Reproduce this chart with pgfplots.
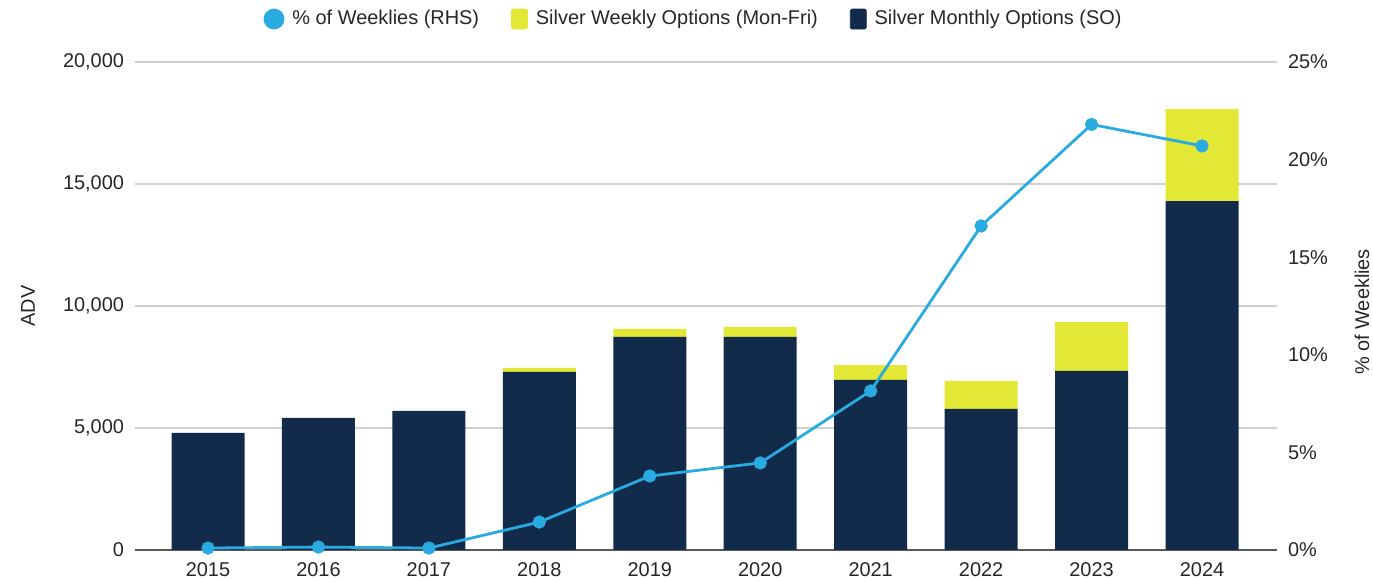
\documentclass[border=0pt]{standalone}
\usepackage{pgfplots}
\pgfplotsset{compat=1.18}
\usepackage{fontspec}
\setmainfont{Liberation Sans}
\definecolor{navy}{HTML}{132B4A}
\definecolor{ylw}{HTML}{E3E836}
\definecolor{lblue}{HTML}{29ABE2}
\definecolor{gridc}{HTML}{D0D0D0}
\definecolor{txt}{HTML}{262626}
\newcommand{\fs}{\fontsize{10}{12}\selectfont}
\begin{document}
\begin{tikzpicture}
\pgfplotsset{
  base/.style={
    scale only axis, width=571bp, height=244bp,
    xmin=-0.661, xmax=9.679,
    at={(0,0)}, anchor=south west,
    /pgf/number format/assume math mode=true,
    tick style={draw=none},
    ticklabel style={font=\fs, text=txt},
    label style={font=\fs, text=txt},
  }
}
\useasboundingbox (-67.5bp,-16bp) rectangle (619bp,275bp);
\begin{axis}[base,
  ybar stacked, bar width=36.5bp,
  ymin=0, ymax=20000, ytick={0,5000,10000,15000,20000},
  /pgf/number format/1000 sep={,},
  scaled y ticks=false,
  ymajorgrids, grid style={gridc, line width=0.6bp},
  axis x line*=bottom, axis y line*=left,
  y axis line style={draw=none},
  x axis line style={draw=black!65, line width=0.9bp},
  xtick={0,...,9},
  xticklabels={2015,2016,2017,2018,2019,2020,2021,2022,2023,2024},
  xticklabel style={yshift=-3bp},
  yticklabel style={xshift=-2bp},
  ylabel={ADV},
  ylabel style={at={(rel axis cs:0,0.5)}, anchor=center, yshift=53.5bp},
]
\addplot[fill=navy, draw=none] coordinates {(0,4800) (1,5410) (2,5700) (3,7300) (4,8730) (5,8730) (6,6970) (7,5780) (8,7340) (9,14300)};
\addplot[fill=ylw, draw=none] coordinates {(0,0) (1,0) (2,0) (3,160) (4,330) (5,410) (6,610) (7,1150) (8,2000) (9,3770)};
\end{axis}
\begin{axis}[base,
  ymin=0, ymax=25, ytick={0,5,10,15,20,25},
  yticklabel={\pgfmathprintnumber{\tick}\%},
  axis x line=none, axis y line*=right,
  y axis line style={draw=none},
  yticklabel style={xshift=2bp},
  ylabel={\% of Weeklies},
  ylabel style={at={(rel axis cs:1,0.5)}, anchor=center, yshift=-42.5bp, xshift=-3bp},
  legend style={at={(rel axis cs:0.49,1.088)}, anchor=center, draw=none, fill=none,
    legend columns=-1, font=\fs, text=txt,
    /tikz/every odd column/.append style={column sep=2bp},
    /tikz/every even column/.append style={column sep=14bp}},
  legend cell align=left,
]
\addplot[lblue, line width=1.4bp, mark=*, mark size=2.6bp, mark options={fill=lblue, draw=lblue},
  legend image code/.code={\fill[lblue] (0bp,0bp) circle (4.5bp);}]
  coordinates {(0,0.1) (1,0.15) (2,0.1) (3,1.43) (4,3.79) (5,4.46) (6,8.15) (7,16.6) (8,21.8) (9,20.7)};
\addlegendentry{\% of Weeklies (RHS)}
\addlegendimage{legend image code/.code={\fill[ylw, rounded corners=0.8bp] (-4bp,-5bp) rectangle (4bp,5bp);}}
\addlegendentry{Silver Weekly Options (Mon-Fri)}
\addlegendimage{legend image code/.code={\fill[navy, rounded corners=0.8bp] (-4bp,-5bp) rectangle (4bp,5bp);}}
\addlegendentry{Silver Monthly Options (SO)}
\end{axis}
\end{tikzpicture}
\end{document}
